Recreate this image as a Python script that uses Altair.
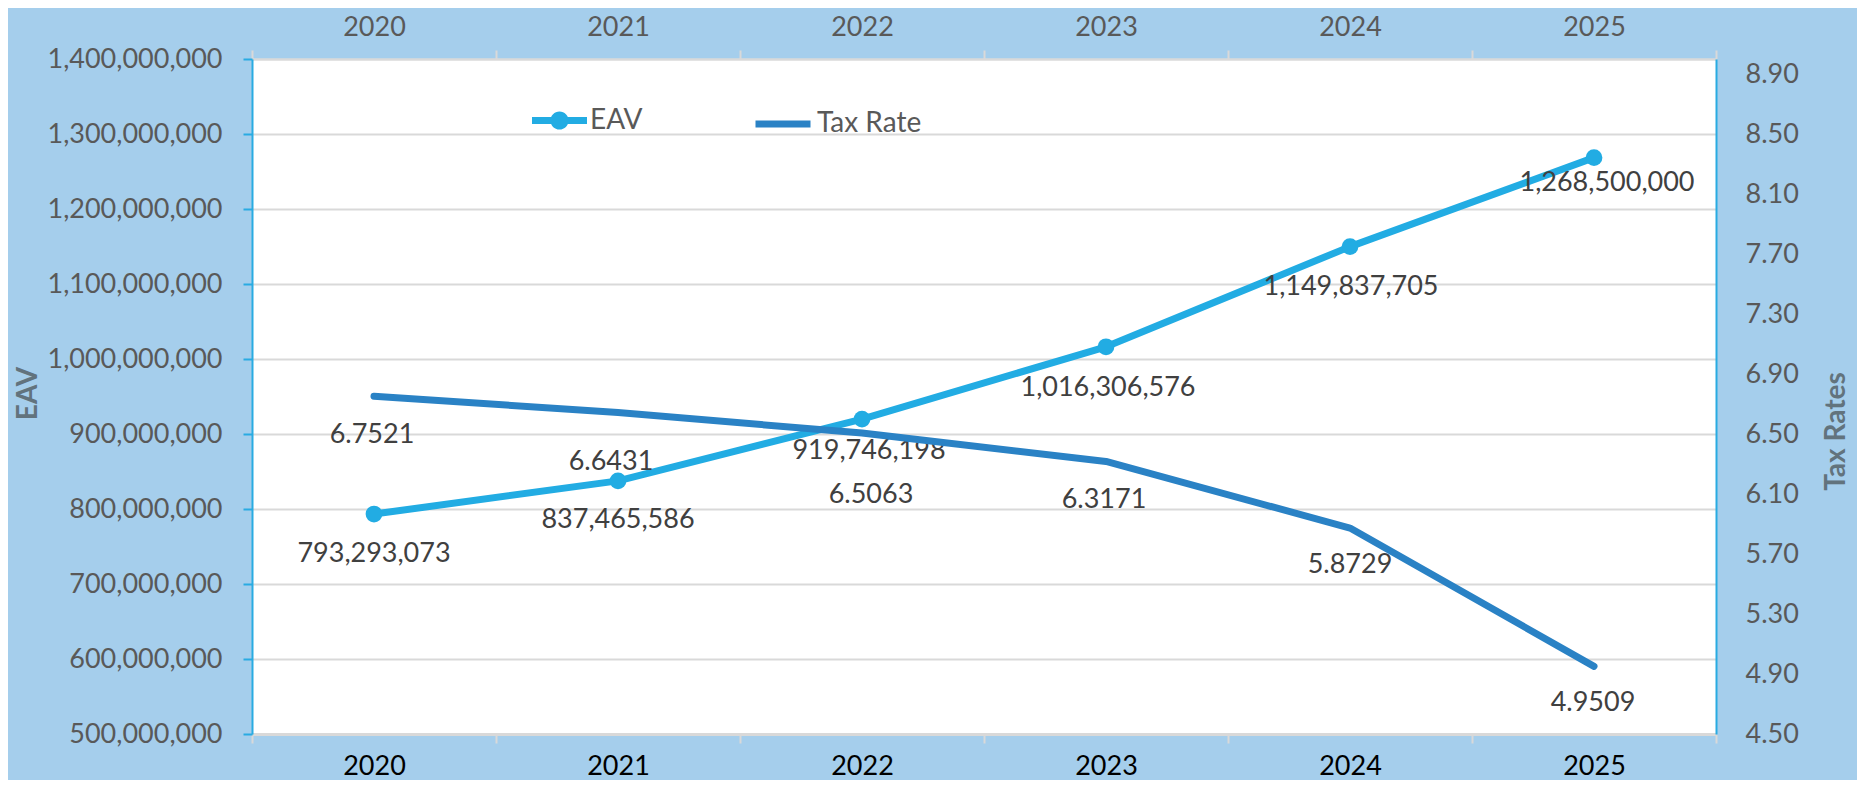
import altair as alt
import pandas as pd

# ---- data ----
years = ["2020", "2021", "2022", "2023", "2024", "2025"]
eav = [793293073, 837465586, 919746198, 1016306576, 1149837705, 1268500000]
tax_rate = [6.7521, 6.6431, 6.5063, 6.3171, 5.8729, 4.9509]

# manual data-label nudges (pixels), as placed in the reference
eav_label_dy = [40, 39, 32, 41, 40, 25]
eav_label_dx = [0, 0, 7, 2, 1, 13]
tax_label_dy = [39, 49, 62, 39, 37, 37]
tax_label_dx = [-2, -7, 9, -2, 0, -1]

eav_ticks = [500000000 + 100000000 * i for i in range(10)]
tax_ticks = [round(4.5 + 0.4 * i, 2) for i in range(12)]

df = pd.DataFrame({"year": years, "eav": eav, "tax": tax_rate})

EAV_COLOR = "#22ACE3"
TAX_COLOR = "#2A82C5"
BG = "#A5CEEC"
GRID = "#D9D9D9"
AXIS_BLUE = "#29ABE2"
FONT = "Lato"
LABEL_COLOR = "#404040"

EAV_PATH = "M-1,-0.13H1V0.13H-1Z M0.33,0A0.33,0.33 0 1,1 -0.33,0A0.33,0.33 0 1,1 0.33,0Z"

x_scale = alt.Scale(type="band", paddingInner=0, paddingOuter=0)

bottom_axis = alt.Axis(
    orient="bottom", title=None, labelAngle=0, labelColor="#000000",
    labelFont=FONT, labelFontSize=27, labelPadding=10,
    domainColor=GRID, domainWidth=3, tickColor=GRID, tickWidth=2,
    tickSize=9, tickBand="extent", grid=False,
)
top_axis = alt.Axis(
    orient="top", title=None, labelAngle=0, labelColor="#595959",
    labelFont=FONT, labelFontSize=27, labelPadding=9,
    domainColor=GRID, domainWidth=2, tickColor=GRID, tickWidth=2,
    tickSize=9, tickBand="extent", grid=False,
)

def xb():
    return alt.X("year:N", scale=x_scale, bandPosition=0.5, axis=bottom_axis)

def xt():
    return alt.X("year:N", scale=x_scale, bandPosition=0.5, axis=top_axis)

legend_common = dict(
    title=None, orient="none", direction="horizontal",
    labelFont=FONT, labelFontSize=28, labelColor="#595959", labelOffset=3,
    symbolSize=3025, padding=0, legendY=34,
)
eav_legend = alt.Legend(legendX=280, symbolType=EAV_PATH, symbolStrokeWidth=0, **legend_common)
tax_legend = alt.Legend(legendX=500, symbolType="stroke", symbolStrokeWidth=7, **legend_common)

y_eav_axis = alt.Axis(
    orient="left", title="EAV", values=eav_ticks,
    labelExpr="format(datum.value, ',')",
    labelFont=FONT, labelFontSize=27, labelColor="#595959", labelPadding=21,
    domainColor=AXIS_BLUE, domainWidth=2, tickColor=AXIS_BLUE, tickWidth=2,
    tickSize=9, grid=True, gridColor=GRID, gridWidth=2,
    titleFont=FONT, titleFontSize=28, titleFontWeight="bold", titleColor="#62737D",
    titleX=-224, titleY=334, titleBaseline="middle", titleAngle=270,
)
y_tax_axis = alt.Axis(
    orient="right", title="Tax Rates", values=tax_ticks,
    labelExpr="format(datum.value, '.2f')",
    labelFont=FONT, labelFontSize=27, labelColor="#595959", labelPadding=29,
    domainColor=AXIS_BLUE, domainWidth=2, ticks=False, grid=False,
    titleFont=FONT, titleFontSize=28, titleFontWeight="bold", titleColor="#62737D",
    titleX=120, titleY=372, titleBaseline="middle", titleAngle=270,
)

y_eav = alt.Y("eav:Q", scale=alt.Scale(domain=[500000000, 1400000000], nice=False, zero=False), axis=y_eav_axis)
y_tax = alt.Y("tax:Q", scale=alt.Scale(domain=[4.5, 9.0], nice=False, zero=False), axis=y_tax_axis)

base = alt.Chart(df)

eav_line = base.mark_line(
    strokeWidth=7, strokeCap="round", strokeJoin="round", color=EAV_COLOR
).encode(x=xb(), y=y_eav)

eav_pts = base.transform_calculate(series="'EAV'").mark_point(
    filled=True, size=280, opacity=1
).encode(
    x=xb(), y=y_eav,
    fill=alt.Fill("series:N", scale=alt.Scale(domain=["EAV"], range=[EAV_COLOR]), legend=eav_legend),
)

eav_texts = [
    base.transform_filter(alt.datum.year == yr).mark_text(
        font=FONT, fontSize=27, color=LABEL_COLOR, baseline="middle", dx=dx, dy=dy
    ).encode(x=xb(), y=y_eav, text=alt.Text("eav:Q", format=","))
    for yr, dx, dy in zip(years, eav_label_dx, eav_label_dy)
]

tax_line = base.transform_calculate(series="'Tax Rate'").mark_line(
    strokeWidth=7, strokeCap="round", strokeJoin="round"
).encode(
    x=xt(), y=y_tax,
    stroke=alt.Stroke("series:N", scale=alt.Scale(domain=["Tax Rate"], range=[TAX_COLOR]), legend=tax_legend),
)

tax_texts = [
    base.transform_filter(alt.datum.year == yr).mark_text(
        font=FONT, fontSize=27, color=LABEL_COLOR, baseline="middle", dx=dx, dy=dy
    ).encode(x=xt(), y=y_tax, text=alt.Text("tax:Q", format=".4f"))
    for yr, dx, dy in zip(years, tax_label_dx, tax_label_dy)
]

left = alt.layer(eav_line, eav_pts, *eav_texts)
right = alt.layer(tax_line, *tax_texts)

chart = alt.layer(left, right).resolve_scale(y="independent").resolve_axis(
    x="independent", y="independent"
).properties(
    width=1464, height=675,
    padding={"left": 244, "top": 51, "right": 141, "bottom": 46},
    autosize=alt.AutoSizeParams(type="none"),
    background=BG,
).configure_view(fill="white", stroke=None)

chart.save("out.html", embed_options={"renderer": "svg", "actions": False})
